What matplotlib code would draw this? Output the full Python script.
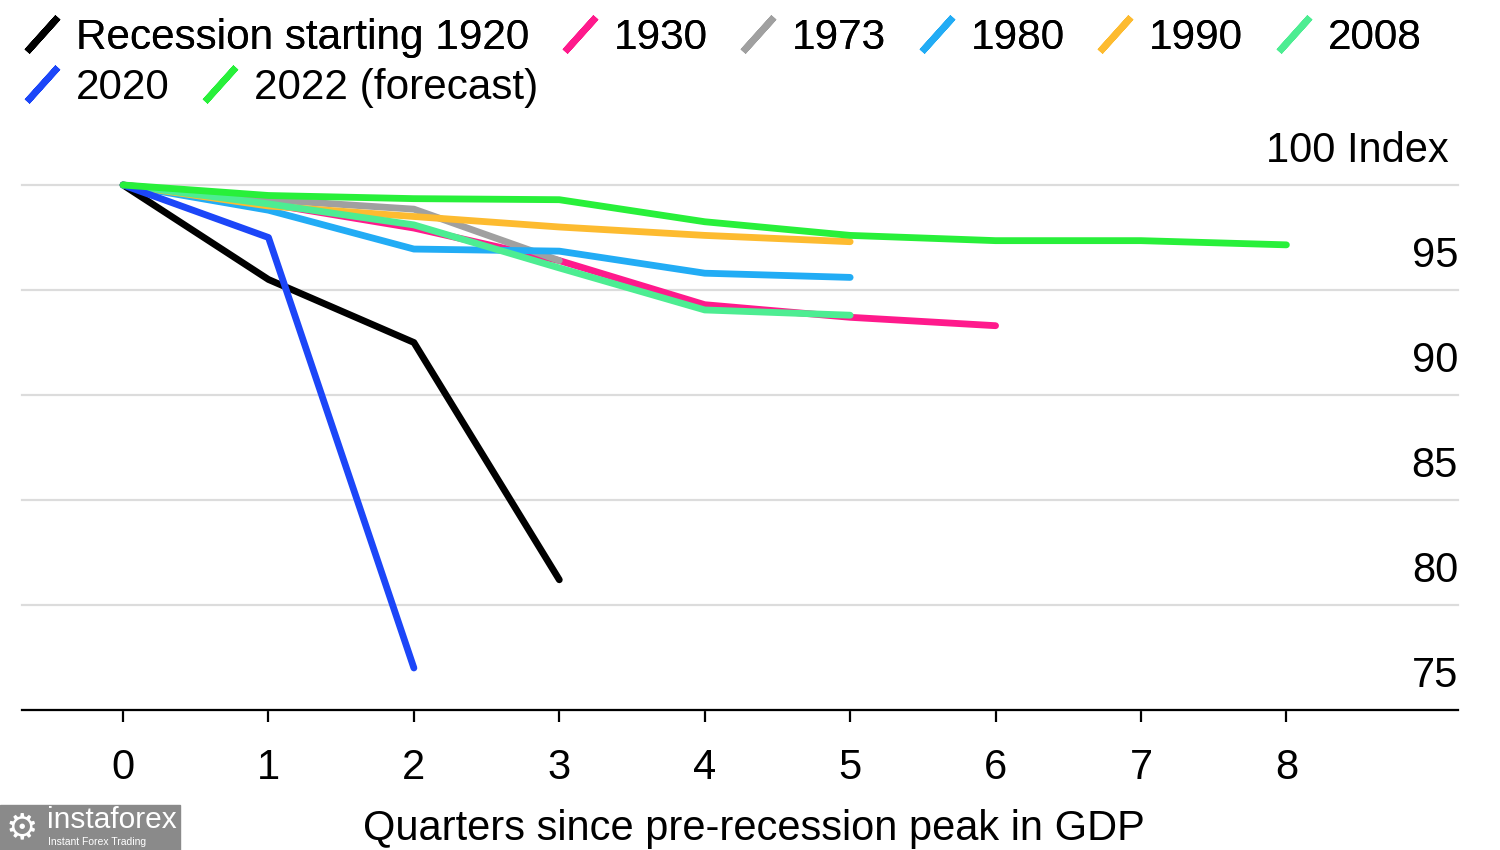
import matplotlib.pyplot as plt
from matplotlib.lines import Line2D
from matplotlib.patches import Rectangle

plt.rcParams['font.family'] = ['Liberation Sans', 'DejaVu Sans']
FONTSIZE = 30

# data (index, pre-recession peak = 100)
quarters = [0, 1, 2, 3, 4, 5, 6, 7, 8]
r1920 = [100, 95.5, 92.5, 81.2]
r1930 = [100, 99.1, 97.95, 96.4, 94.3, 93.7, 93.3]
r1973 = [100, 99.3, 98.85, 96.4]
r1980 = [100, 98.8, 96.95, 96.85, 95.8, 95.6]
r1990 = [100, 99.0, 98.5, 98.0, 97.6, 97.3]
r2008 = [100, 99.1, 98.1, 96.05, 94.05, 93.8]
r2020 = [100, 97.5, 77.0]
r2022 = [100, 99.5, 99.35, 99.3, 98.25, 97.6, 97.35, 97.35, 97.15]

series = [r1920, r1930, r1973, r1980, r1990, r2008, r2020, r2022]
names = ['Recession starting 1920', '1930', '1973', '1980', '1990', '2008',
         '2020', '2022 (forecast)']
colors = ['#000000', '#ff1a8c', '#a0a0a0', '#22acf5', '#fdbb30', '#4ded92',
          '#1c46f8', '#28f03a']
ytick_vals = [75, 80, 85, 90, 95, 100]
ytick_text = ['75', '80', '85', '90', '95', '100 Index']

fig = plt.figure(figsize=(15, 8.5), dpi=100)
ax = fig.add_axes([22 / 1500, 140 / 850, 1436 / 1500, 525 / 850])

for vals, c in zip(series, colors):
    ax.plot(quarters[:len(vals)], vals, color=c, lw=4.9,
            solid_capstyle='round', solid_joinstyle='round', clip_on=False)

ax.set_xlim(-0.695, 9.18)
ax.set_ylim(75, 100)
ax.set_xticks(quarters)
ax.set_yticks(ytick_vals)
ax.grid(axis='y', color='#dcdcdc', lw=1.6)
for gl in ax.get_ygridlines():
    gl.set_clip_on(False)
ax.set_axisbelow(True)

for s in ['top', 'left', 'right']:
    ax.spines[s].set_visible(False)
ax.spines['bottom'].set_linewidth(1.6)
ax.spines['bottom'].set_zorder(3)

ax.tick_params(axis='x', direction='out', length=8.6, width=1.6, pad=18.5,
               labelsize=FONTSIZE)
ax.tick_params(axis='y', left=False, labelleft=False)

# value labels sit above the gridlines on the right
for v, t in zip(ytick_vals, ytick_text):
    dx = -7 if 'Index' in t else 0
    ax.annotate(t, xy=(1, v), xycoords=('axes fraction', 'data'),
                xytext=(dx, 16.5), textcoords='offset points',
                ha='right', va='baseline', fontsize=FONTSIZE)

ax.set_xlabel('Quarters since pre-recession peak in GDP', fontsize=FONTSIZE)
ax.xaxis.set_label_coords(0.51, -0.188)

# legend with slanted dash handles
handles = [Line2D([], [], ls='none', marker=(2, 2, -42), markersize=33,
                  markeredgewidth=4.8, markeredgecolor=c) for c in colors]
leg_kw = dict(loc='upper left', frameon=False, fontsize=30.4,
              handlelength=0.8, handletextpad=0.4, columnspacing=0.8,
              borderpad=0, borderaxespad=0)
leg1 = fig.legend(handles[:6], names[:6], ncol=6,
                  bbox_to_anchor=(25 / 1500, 1 - 18 / 850), **leg_kw)
fig.legend(handles[6:], names[6:], ncol=2,
           bbox_to_anchor=(25 / 1500, 1 - 68 / 850), **leg_kw)
fig.add_artist(leg1)

# watermark box bottom left
fig.patches.append(Rectangle((0, 0), 180 / 1500, 45 / 850, color='#8a8a8a',
                             transform=fig.transFigure, zorder=5))
fig.text(6 / 1500, 22 / 850, '\u2699', color='white', fontsize=26,
         va='center', family=['DejaVu Sans'], zorder=6)
fig.text(47 / 1500, 22 / 850, 'instaforex', color='white', fontsize=21.5,
         va='baseline', zorder=6)
fig.text(48 / 1500, 5 / 850, 'Instant Forex Trading', color='white',
         fontsize=7.5, va='baseline', zorder=6)

fig.savefig('out.png', dpi=100, facecolor='white')
